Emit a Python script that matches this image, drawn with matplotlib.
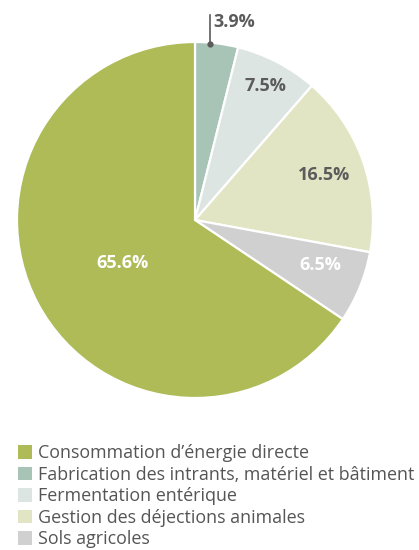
import numpy as np
import matplotlib
matplotlib.use("Agg")
import matplotlib.pyplot as plt
from matplotlib.patches import Patch

# data (clockwise from top)
categories = ["Fabrication des intrants, matériel et bâtiment", "Fermentation entérique",
              "Gestion des déjections animales", "Sols agricoles", "Consommation d’énergie directe"]
values = [3.9, 7.5, 16.5, 6.5, 65.6]
colors = ["#a8c4b7", "#dce5e1", "#e2e5c4", "#d0d0d0", "#aebb57"]
label_colors = ["#5b5b5b", "#5b5b5b", "#5b5b5b", "#ffffff", "#ffffff"]
label_radius = [None, 0.85, 0.77, 0.75, 0.47]
label_shift = [0, 0, 0, 2.5, 2.5]  # degrees
legend_order = ["Consommation d’énergie directe", "Fabrication des intrants, matériel et bâtiment",
                "Fermentation entérique", "Gestion des déjections animales", "Sols agricoles"]

plt.rcParams['font.family'] = ['Open Sans', 'DejaVu Sans']

W, H = 419, 550
fig = plt.figure(figsize=(W / 100, H / 100), dpi=100)
cx, cy, r = 195, 220, 178
ax = fig.add_axes([(cx - r) / W, (H - cy - r) / H, 2 * r / W, 2 * r / H])
ax.set_aspect('equal')
ax.axis('off')

wedges, _ = ax.pie(values, colors=colors, startangle=90, counterclock=False,
                   radius=1, wedgeprops=dict(edgecolor='white', linewidth=1.6))
ax.set_xlim(-1, 1)
ax.set_ylim(-1, 1)

for i, (w, v) in enumerate(zip(wedges, values)):
    t1, t2 = w.theta1, w.theta2
    mid = np.deg2rad((t1 + t2) / 2 + label_shift[i])
    txt = f"{v:.1f}%"
    if label_radius[i] is None:
        ang = np.deg2rad(t2 - 0.35 * (t2 - t1))
        x0, y0 = 0.99 * np.cos(ang), 0.99 * np.sin(ang)
        ax.plot([x0, x0], [y0, y0 + 0.165], color="#5b5b5b", lw=1.2, clip_on=False)
        ax.plot([x0], [y0], marker='o', ms=3.5, color="#5b5b5b", clip_on=False)
        ax.text(x0 + 0.02, y0 + 0.125, txt, ha='left', va='center', fontsize=13,
                fontweight='bold', color=label_colors[i], clip_on=False)
    else:
        rr = label_radius[i]
        ax.text(rr * np.cos(mid), rr * np.sin(mid), txt, ha='center', va='center',
                fontsize=13, fontweight='bold', color=label_colors[i])

handles = [Patch(facecolor=colors[categories.index(c)], edgecolor='none') for c in legend_order]
fig.legend(handles, legend_order, loc='upper left', bbox_to_anchor=(18 / W, 1 - 444 / H),
           frameon=False, fontsize=12.9, handlelength=0.8, handleheight=0.8,
           handletextpad=0.3, labelspacing=0.2, borderpad=0, borderaxespad=0,
           labelcolor="#555555")

fig.savefig("out.png", dpi=100)
